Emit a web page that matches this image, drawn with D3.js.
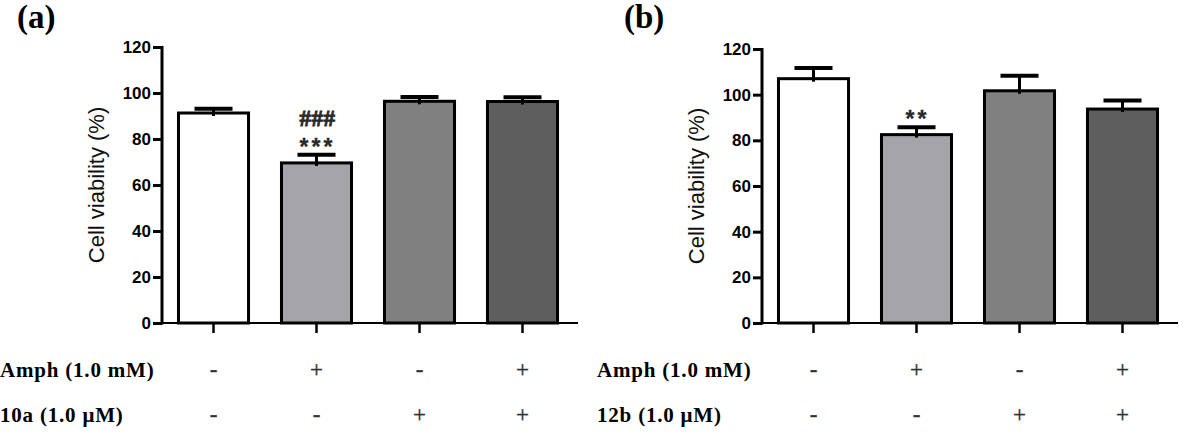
<!DOCTYPE html>
<html>
<head>
<meta charset="utf-8">
<script src="https://cdn.jsdelivr.net/npm/d3@7"></script>
<style>
  body { margin: 0; background: #fff; }
  svg { display: block; }
</style>
</head>
<body>
<svg id="chart" width="1188" height="438"></svg>
<script>
// data
const groups = ['g1', 'g2', 'g3', 'g4'];
const barColors = ['#ffffff', '#a4a4a9', '#808080', '#5e5e5e'];
const yTicks = [0, 20, 40, 60, 80, 100, 120];

const meansA = [91.3, 69.6, 96.4, 96.3];
const errA   = [1.9, 3.6, 1.9, 1.9];
const marksA = [[], ['###', '***'], [], []];
const amphA  = ['-', '+', '-', '+'];
const cpdA   = ['-', '-', '+', '+'];

const meansB = [107.0, 82.5, 101.7, 93.7];
const errB   = [4.7, 3.2, 6.6, 3.7];
const marksB = [[], ['**'], [], []];
const amphB  = ['-', '+', '-', '+'];
const cpdB   = ['-', '-', '+', '+'];

const svg = d3.select('#chart');
const SANS = '"Liberation Sans", Arial, sans-serif';
const SERIF = '"Liberation Serif", "Times New Roman", serif';

function panel(opt) {
  const g = svg.append('g');

  const x = d3.scaleBand()
    .domain(groups)
    .range([opt.x0, opt.x1])
    .paddingInner(0.32)
    .paddingOuter(0.16);

  const y = d3.scaleLinear()
    .domain([0, 120])
    .range([opt.yBottom, opt.yTop]);

  const cx = i => x(groups[i]) + x.bandwidth() / 2;

  // panel letter
  g.append('text')
    .attr('x', opt.letterX)
    .attr('y', 28)
    .style('font-family', SERIF)
    .style('font-weight', 'bold')
    .style('font-size', '33px')
    .text(opt.letter);

  // bars
  g.selectAll('.bar')
    .data(opt.means)
    .join('rect')
      .attr('class', 'bar')
      .attr('x', (d, i) => x(groups[i]))
      .attr('width', x.bandwidth())
      .attr('y', d => y(d))
      .attr('height', d => y(0) - y(d))
      .attr('fill', (d, i) => barColors[i])
      .attr('stroke', '#000')
      .attr('stroke-width', 3);

  // error bars (upper only)
  const eb = g.selectAll('.err')
    .data(opt.means)
    .join('g')
      .attr('class', 'err');
  eb.append('line')
    .attr('x1', (d, i) => cx(i))
    .attr('x2', (d, i) => cx(i))
    .attr('y1', d => y(d) + 3)
    .attr('y2', (d, i) => y(d + opt.err[i]))
    .attr('stroke', '#000')
    .attr('stroke-width', 3);
  eb.append('line')
    .attr('x1', (d, i) => cx(i) - 19)
    .attr('x2', (d, i) => cx(i) + 19)
    .attr('y1', (d, i) => y(d + opt.err[i]))
    .attr('y2', (d, i) => y(d + opt.err[i]))
    .attr('stroke', '#000')
    .attr('stroke-width', 4);

  // significance marks (asterisks sit just above the cap, hashes above them)
  opt.marks.forEach((m, i) => {
    const top = y(opt.means[i] + opt.err[i]);
    m.forEach(s => {
      const isHash = s.includes('#');
      g.append('text')
        .attr('x', cx(i) + 1)
        .attr('y', isHash ? top - 29 : top)
        .attr('text-anchor', 'middle')
        .style('font-family', isHash ? SERIF : SANS)
        .style('font-weight', 'bold')
        .style('font-size', isHash ? '23px' : '23px')
        .style('letter-spacing', isHash ? '0.5px' : '3px')
        .style('fill', '#2a2a2a')
        .style('stroke', '#2a2a2a')
        .style('stroke-width', isHash ? 0.9 : 0.3)
        .text(s);
    });
  });

  // y axis
  const ya = g.append('g')
    .attr('transform', `translate(${opt.x0},0)`)
    .call(d3.axisLeft(y).tickValues(yTicks).tickSize(9).tickPadding(2));
  ya.select('.domain').attr('stroke-width', 3).attr('d', `M0,${opt.yTop - 1}V${opt.yBottom + 1.5}`);
  ya.selectAll('.tick line').attr('stroke-width', 3);
  ya.selectAll('.tick text')
    .style('font-family', SANS)
    .style('font-weight', 'bold')
    .style('font-size', '17px')
    .attr('fill', '#000');

  // x axis
  const xa = g.append('g')
    .attr('transform', `translate(0,${opt.yBottom})`)
    .call(d3.axisBottom(x).tickSize(10).tickFormat(''));
  xa.select('.domain').attr('stroke-width', 2).attr('d', `M${opt.x0},0H${opt.x1 + 4}`);
  xa.selectAll('.tick line').attr('stroke-width', 2.5);

  // axis title
  g.append('text')
    .attr('transform', 'rotate(-90)')
    .attr('x', -(opt.yTop + opt.yBottom) / 2)
    .attr('y', opt.x0 - 58)
    .attr('text-anchor', 'middle')
    .style('font-family', SANS)
    .style('font-size', '22px')
    .style('fill', '#111')
    .text('Cell viability (%)');

  // treatment rows
  const rows = [[opt.rowLabel1, opt.amph, 377], [opt.rowLabel2, opt.cpd, 422]];
  rows.forEach(([label, signs, yy]) => {
    g.append('text')
      .attr('x', opt.labelX)
      .attr('y', yy)
      .style('font-family', SERIF)
      .style('font-weight', 'bold')
      .style('font-size', '21px')
      .style('letter-spacing', '0.8px')
      .text(label);
    g.selectAll(null)
      .data(signs)
      .join('text')
        .attr('x', (d, i) => cx(i))
        .attr('y', yy)
        .attr('text-anchor', 'middle')
        .style('font-family', SERIF)
        .style('font-size', '23px')
        .style('fill', '#333')
        .style('stroke', '#333')
        .style('stroke-width', 0.4)
        .text(d => d);
  });
}

panel({
  letter: '(a)', letterX: 17,
  x0: 162, x1: 574, yTop: 47, yBottom: 323,
  means: meansA, err: errA, marks: marksA,
  amph: amphA, cpd: cpdA,
  labelX: 0, rowLabel1: 'Amph (1.0 mM)', rowLabel2: '10a (1.0 μM)'
});

panel({
  letter: '(b)', letterX: 624,
  x0: 762, x1: 1174, yTop: 49, yBottom: 323,
  means: meansB, err: errB, marks: marksB,
  amph: amphB, cpd: cpdB,
  labelX: 597, rowLabel1: 'Amph (1.0 mM)', rowLabel2: '12b (1.0 μM)'
});
</script>
</body>
</html>
